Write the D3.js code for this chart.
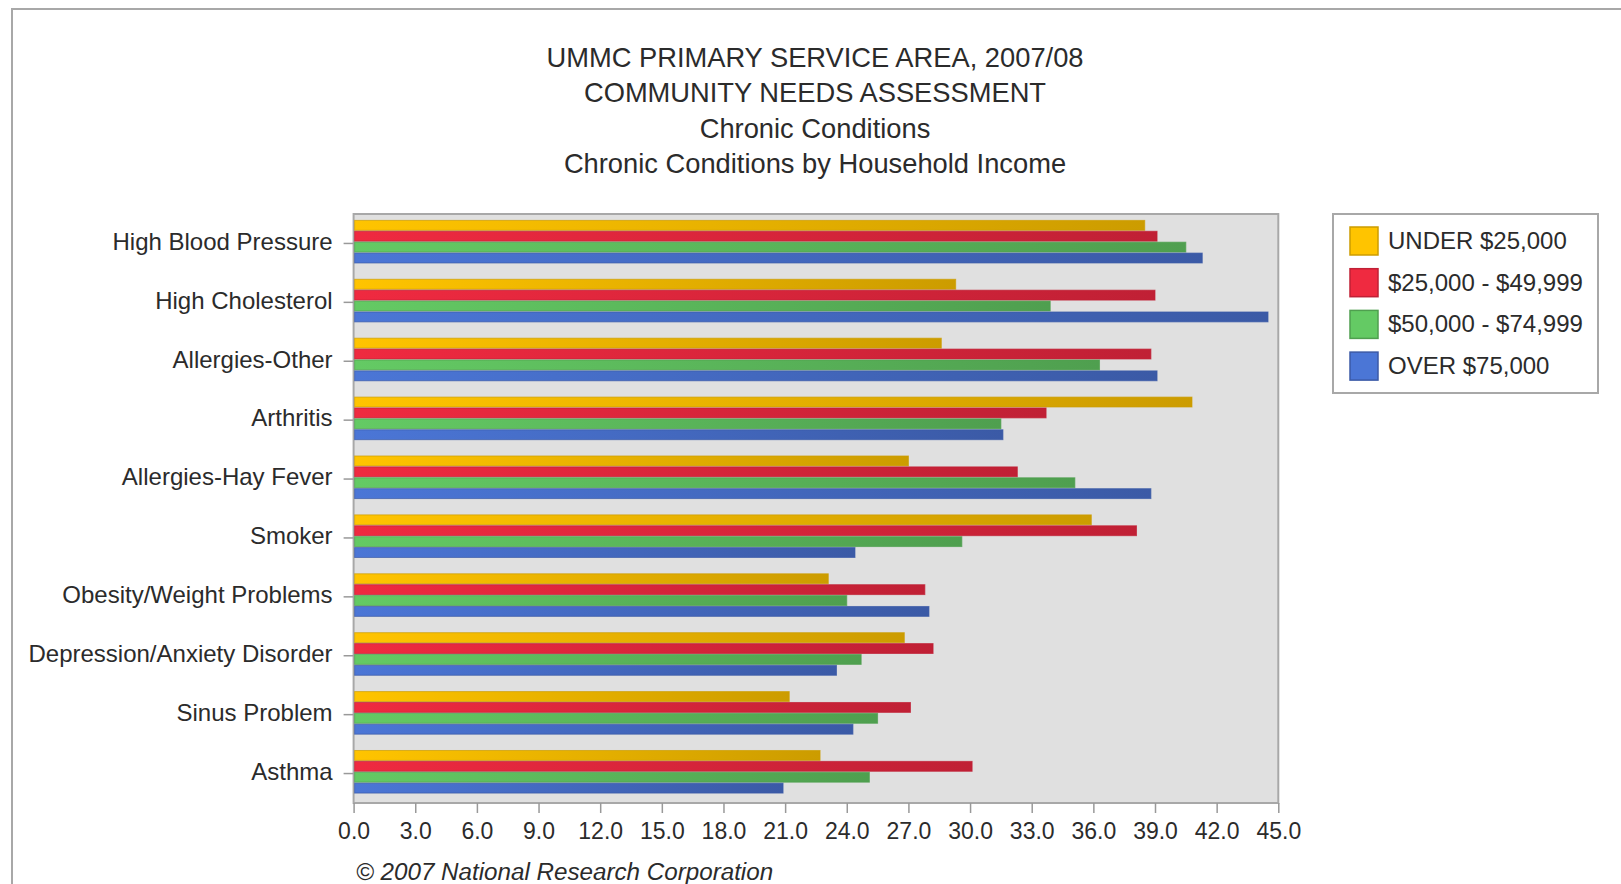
<!DOCTYPE html>
<html>
<head>
<meta charset="utf-8">
<script src="https://cdn.jsdelivr.net/npm/d3@7"></script>
<style>
  html, body { margin: 0; padding: 0; background: #fff; }
  svg { display: block; font-family: "Liberation Sans", Arial, sans-serif; }
</style>
</head>
<body>
<svg id="chart" width="1621" height="884"></svg>
<script>
// ---- data ----
const titleLines = [
  "UMMC PRIMARY SERVICE AREA, 2007/08",
  "COMMUNITY NEEDS ASSESSMENT",
  "Chronic Conditions",
  "Chronic Conditions by Household Income"
];
const categories = [
  "High Blood Pressure", "High Cholesterol", "Allergies-Other", "Arthritis",
  "Allergies-Hay Fever", "Smoker", "Obesity/Weight Problems",
  "Depression/Anxiety Disorder", "Sinus Problem", "Asthma"
];
const seriesNames = ["UNDER $25,000", "$25,000 - $49,999", "$50,000 - $74,999", "OVER $75,000"];
const under25  = [38.5, 29.3, 28.6, 40.8, 27.0, 35.9, 23.1, 26.8, 21.2, 22.7];
const from25   = [39.1, 39.0, 38.8, 33.7, 32.3, 38.1, 27.8, 28.2, 27.1, 30.1];
const from50   = [40.5, 33.9, 36.3, 31.5, 35.1, 29.6, 24.0, 24.7, 25.5, 25.1];
const over75   = [41.3, 44.5, 39.1, 31.6, 38.8, 24.4, 28.0, 23.5, 24.3, 20.9];
const seriesValues = [under25, from25, from50, over75];
const xTicks = [0, 3, 6, 9, 12, 15, 18, 21, 24, 27, 30, 33, 36, 39, 42, 45];
const copyright = "\u00A9 2007 National Research Corporation";

// ---- styles ----
const colorsLight = ["#ffc400", "#ef2a40", "#64ca64", "#4b76d6"];
const colorsDark  = ["#cc9c00", "#c02035", "#4f9f4f", "#3b5aa6"];
const textColor = "#2b2b2b";

const svg = d3.select("#chart");
const W = 1621, H = 884;

// outer frame (left + top only visible)
svg.append("rect").attr("x", 12).attr("y", 9).attr("width", W + 20).attr("height", H + 20)
  .attr("fill", "#fff").attr("stroke", "#a8a8a8").attr("stroke-width", 2);

// gradients
const defs = svg.append("defs");
seriesNames.forEach((s, i) => {
  const g = defs.append("linearGradient").attr("id", "grad" + i)
    .attr("x1", "0%").attr("x2", "100%").attr("y1", "0%").attr("y2", "0%");
  g.append("stop").attr("offset", "0%").attr("stop-color", colorsLight[i]);
  g.append("stop").attr("offset", "100%").attr("stop-color", colorsDark[i]);
});

// titles
const titleBaselines = [67, 102, 138, 173];
svg.append("g").selectAll("text").data(titleLines).join("text")
  .attr("x", 815).attr("y", (d, i) => titleBaselines[i])
  .attr("text-anchor", "middle").attr("font-size", 27.3).attr("fill", textColor)
  .text(d => d);

// plot area
const plot = { left: 353.6, right: 1278.3, top: 214, bottom: 803 };
const x = d3.scaleLinear().domain([0, 45]).range([plot.left, plot.right]);
const y = d3.scaleBand().domain(categories).range([plot.top, plot.bottom]).padding(0);
const bw = y.bandwidth();
const yInner = d3.scaleBand().domain(d3.range(seriesNames.length))
  .range([bw * 0.1, bw * 0.1 + bw * 0.74]).padding(0);

svg.append("rect").attr("x", plot.left).attr("y", plot.top)
  .attr("width", plot.right - plot.left).attr("height", plot.bottom - plot.top)
  .attr("fill", "#e0e0e0").attr("stroke", "#a8a8a8").attr("stroke-width", 2);

// bars
const groups = svg.append("g").selectAll("g").data(categories).join("g")
  .attr("transform", d => `translate(0,${y(d)})`);
groups.selectAll("rect").data((c, ci) => seriesValues.map((vals, si) => ({ si, v: vals[ci] })))
  .join("rect")
  .attr("x", x(0) + 1)
  .attr("y", d => yInner(d.si) + 0.5)
  .attr("width", d => x(d.v) - x(0) - 1)
  .attr("height", yInner.bandwidth() - 1)
  .attr("fill", d => `url(#grad${d.si})`)
  .attr("stroke", d => colorsDark[d.si])
  .attr("stroke-opacity", 0.7)
  .attr("stroke-width", 1);

// x axis
const xAxis = d3.axisBottom(x).tickValues(xTicks).tickFormat(d3.format(".1f"))
  .tickSize(10).tickPadding(10);
const gx = svg.append("g").attr("transform", `translate(0,${plot.bottom})`).call(xAxis);
gx.select(".domain").remove();
gx.selectAll(".tick line").attr("stroke", "#999").attr("stroke-width", 1.5);
gx.selectAll(".tick text").attr("font-size", 23).attr("fill", textColor)
  .attr("font-family", "'Liberation Sans', Arial, sans-serif");

// y axis
const yAxis = d3.axisLeft(y).tickSize(10).tickPadding(11);
const gy = svg.append("g").attr("transform", `translate(${plot.left},0)`).call(yAxis);
gy.select(".domain").remove();
gy.selectAll(".tick line").attr("stroke", "#999").attr("stroke-width", 1.5);
gy.selectAll(".tick text").attr("font-size", 24).attr("fill", textColor).attr("dy", "0.26em")
  .attr("font-family", "'Liberation Sans', Arial, sans-serif");

// legend
const legend = svg.append("g");
legend.append("rect").attr("x", 1333).attr("y", 214).attr("width", 265).attr("height", 179)
  .attr("fill", "#fff").attr("stroke", "#a8a8a8").attr("stroke-width", 2);
const li = legend.selectAll("g.item").data(seriesNames).join("g").attr("class", "item")
  .attr("transform", (d, i) => `translate(1350,${227 + i * 41.7})`);
li.append("rect").attr("width", 28).attr("height", 28)
  .attr("fill", (d, i) => colorsLight[i]).attr("stroke", (d, i) => colorsDark[i]).attr("stroke-width", 1.5);
li.append("text").attr("x", 38).attr("y", 22).attr("font-size", 24).attr("fill", textColor)
  .text(d => d);

// copyright
svg.append("text").attr("x", 356).attr("y", 880).attr("font-size", 24.2)
  .attr("font-style", "italic").attr("fill", textColor).text(copyright);
</script>
</body>
</html>
